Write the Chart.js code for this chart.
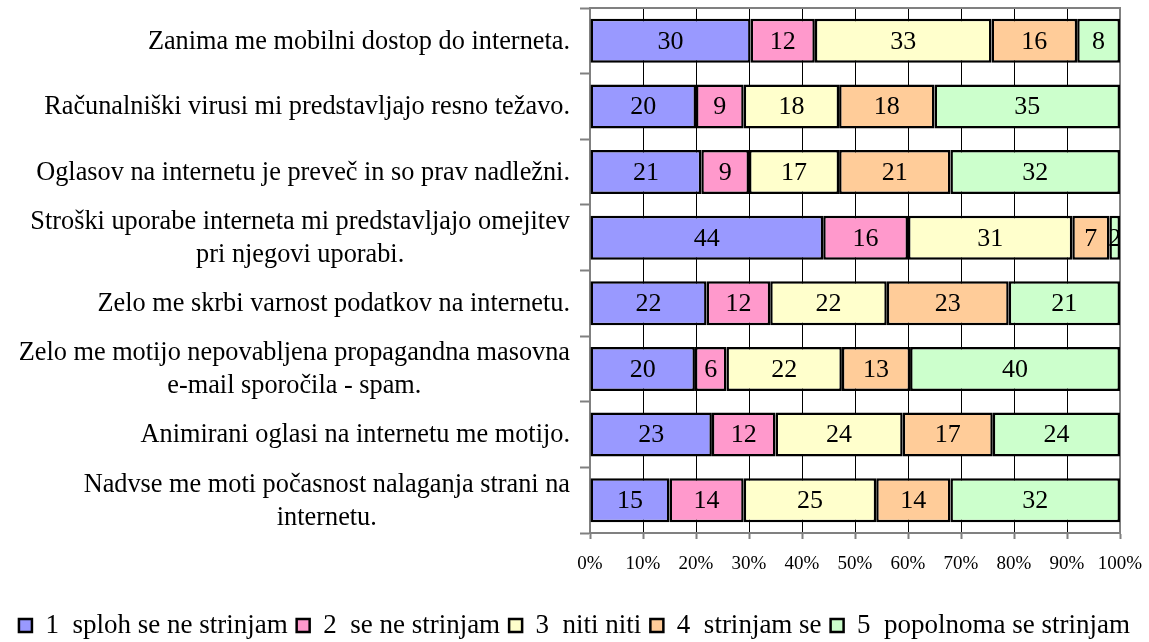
<!DOCTYPE html>
<html><head><meta charset="utf-8">
<script src="https://cdn.jsdelivr.net/npm/chart.js@4"></script>
<style>html,body{margin:0;padding:0;background:#fff}#wrap{width:1149px;height:642px;position:relative}</style>
</head><body><div id="wrap"><canvas id="c"></canvas></div>
<script>
const categories = [
  ["Zanima me mobilni dostop do interneta."],
  ["Računalniški virusi mi predstavljajo resno težavo."],
  ["Oglasov na internetu je preveč in so prav nadležni."],
  ["Stroški uporabe interneta mi predstavljajo omejitev", "pri njegovi uporabi."],
  ["Zelo me skrbi varnost podatkov na internetu."],
  ["Zelo me motijo nepovabljena propagandna masovna", "e-mail sporočila - spam."],
  ["Animirani oglasi na internetu me motijo."],
  ["Nadvse me moti počasnost nalaganja strani na", "internetu."]
];
const seriesNames = ["1  sploh se ne strinjam", "2  se ne strinjam", "3  niti niti", "4  strinjam se", "5  popolnoma se strinjam"];
const s1 = [30, 20, 21, 44, 22, 20, 23, 15];
const s2 = [12, 9, 9, 16, 12, 6, 12, 14];
const s3 = [33, 18, 17, 31, 22, 22, 24, 25];
const s4 = [16, 18, 21, 7, 23, 13, 17, 14];
const s5 = [8, 35, 32, 2, 21, 40, 24, 32];
const seriesColors = ["#9999FF", "#FF99CC", "#FFFFCC", "#FFCC99", "#CCFFCC"];
const tickLabels = ["0%", "10%", "20%", "30%", "40%", "50%", "60%", "70%", "80%", "90%", "100%"];

const FONT = "'Liberation Serif', 'Times New Roman', serif";
const series = [s1, s2, s3, s4, s5];
const totals = categories.map((_, i) => series.reduce((a, s) => a + s[i], 0));

const datasets = series.map((s, k) => ({
  label: seriesNames[k],
  raw: s,
  data: s.map((v, i) => v / totals[i] * 100),
  backgroundColor: seriesColors[k],
  borderColor: "#000",
  borderWidth: 2.5,
  borderSkipped: false,
  barPercentage: 0.67,
  categoryPercentage: 1.0
}));

const frame = {
  id: "frame",
  beforeDatasetsDraw(chart) {
    const a = chart.chartArea, c = chart.ctx;
    c.save();
    c.strokeStyle = "#808080"; c.lineWidth = 2;
    c.beginPath();
    c.moveTo(a.left, a.top); c.lineTo(a.right, a.top); c.lineTo(a.right, a.bottom);
    c.stroke();
    c.restore();
  }
};

const valueLabels = {
  id: "valueLabels",
  afterDatasetsDraw(chart) {
    const c = chart.ctx;
    c.save();
    c.font = "26px " + FONT;
    c.fillStyle = "#000";
    c.textAlign = "center";
    c.textBaseline = "middle";
    chart.data.datasets.forEach((ds, k) => {
      chart.getDatasetMeta(k).data.forEach((bar, i) => {
        const x = (bar.x + bar.base) / 2;
        c.fillText(String(ds.raw[i]), x, bar.y + 1);
      });
    });
    c.restore();
  }
};

const catLabels = {
  id: "catLabels",
  afterDraw(chart) {
    const c = chart.ctx, y = chart.scales.y;
    const right = chart.chartArea.left - 20;
    c.save();
    c.font = "26.3px " + FONT;
    c.fillStyle = "#000";
    c.textBaseline = "middle";
    c.textAlign = "center";
    const lh = 33;
    categories.forEach((lines, i) => {
      const cy = y.getPixelForValue(i);
      const w = Math.max(...lines.map(l => c.measureText(l).width));
      const cx = right - w / 2;
      lines.forEach((l, j) => {
        c.fillText(l, cx, cy + 1 + (j - (lines.length - 1) / 2) * lh);
      });
    });
    c.restore();
  }
};

new Chart(document.getElementById("c"), {
  type: "bar",
  data: { labels: categories.map(l => l.join(" ")), datasets },
  options: {
    indexAxis: "y",
    responsive: true,
    maintainAspectRatio: false,
    animation: false,
    layout: { padding: { left: 0, right: 0, top: 8, bottom: -7 } },
    plugins: {
      tooltip: { enabled: false },
      legend: {
        position: "bottom",
        labels: {
          font: { family: FONT, size: 27 },
          color: "#000",
          boxWidth: 13,
          boxHeight: 13,
          padding: 9
        }
      }
    },
    scales: {
      x: {
        stacked: true,
        min: 0, max: 100,
        afterFit: (s) => { s.height = 70; s.paddingLeft = 0; s.paddingRight = 29; },
        ticks: {
          stepSize: 10,
          font: { family: FONT, size: 19 },
          color: "#000",
          padding: 14,
          maxRotation: 0,
          callback: (v, i) => tickLabels[i]
        },
        grid: {
          color: "#000",
          lineWidth: 1,
          borderDash: [7, 14],
          borderDashOffset: 2,
          tickColor: "#808080",
          tickWidth: 2,
          tickLength: 6,
          tickBorderDash: []
        },
        border: { color: "#808080", width: 2 }
      },
      y: {
        stacked: true,
        afterFit: (s) => { s.width = 590; },
        ticks: { display: false },
        grid: {
          offset: true,
          drawOnChartArea: false,
          tickColor: "#808080",
          tickWidth: 2,
          tickLength: 10
        },
        border: { color: "#808080", width: 2 }
      }
    }
  },
  plugins: [frame, valueLabels, catLabels]
});
</script>
</body></html>
